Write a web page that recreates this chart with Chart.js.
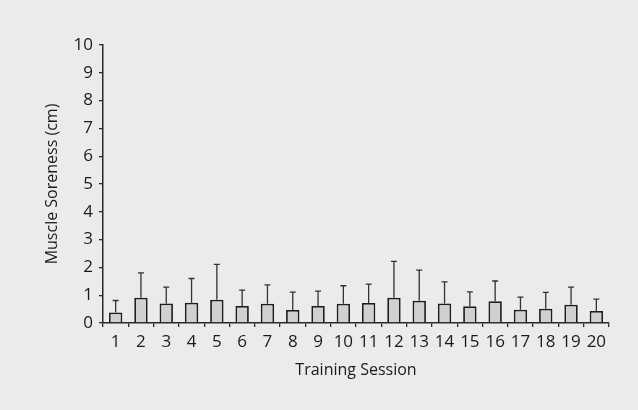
<!DOCTYPE html>
<html>
<head>
<meta charset="utf-8">
<script src="https://cdn.jsdelivr.net/npm/chart.js@4/dist/chart.umd.min.js"></script>
<style>
  html, body { margin: 0; padding: 0; background: #ebebed; }
  #wrap { width: 638px; height: 410px; }
</style>
</head>
<body>
<div id="wrap"><canvas id="barChart" width="638" height="410"></canvas></div>
<script>
const sessions = ['1', '2', '3', '4', '5', '6', '7', '8', '9', '10',
                  '11', '12', '13', '14', '15', '16', '17', '18', '19', '20'];
const soreness = [0.38, 0.91, 0.70, 0.73, 0.84, 0.61, 0.69, 0.47, 0.61, 0.69,
                  0.72, 0.91, 0.80, 0.70, 0.60, 0.78, 0.48, 0.51, 0.66, 0.43];
const sorenessSD = [0.43, 0.89, 0.59, 0.87, 1.27, 0.57, 0.68, 0.64, 0.54, 0.65,
                    0.68, 1.31, 1.10, 0.78, 0.52, 0.73, 0.45, 0.59, 0.63, 0.43];
const yTicks = [0, 1, 2, 3, 4, 5, 6, 7, 8, 9, 10];

const axisColor = '#2a2a2a';
const font = "'Open Sans', sans-serif";

// one-sided (upper) error bars drawn through the y scale
const errorBars = {
    id: 'errorBars',
    afterDatasetsDraw(chart) {
        const ctx = chart.ctx;
        const y = chart.scales.y;
        const meta = chart.getDatasetMeta(0);
        ctx.save();
        ctx.strokeStyle = '#333';
        ctx.lineWidth = 1.3;
        meta.data.forEach((bar, i) => {
            const top = y.getPixelForValue(soreness[i] + sorenessSD[i]);
            ctx.beginPath();
            ctx.moveTo(bar.x, bar.y);
            ctx.lineTo(bar.x, top);
            ctx.moveTo(bar.x - 3, top);
            ctx.lineTo(bar.x + 3, top);
            ctx.stroke();
        });
        ctx.restore();
    }
};

const ctx1 = document.getElementById('barChart');

new Chart(ctx1, {
    type: 'bar',
    data: {
        labels: sessions,
        datasets: [{
            label: 'Muscle Soreness',
            data: soreness,
            backgroundColor: '#d0d0d2',
            borderColor: '#1e1e1e',
            borderWidth: 1.8,
            categoryPercentage: 1,
            barPercentage: 0.53
        }]
    },
    options: {
        responsive: false,
        animation: false,
        layout: { padding: { left: 43, right: 29, top: 45, bottom: 30 } },
        plugins: {
            legend: { display: false },
            tooltip: { enabled: false }
        },
        scales: {
            x: {
                grid: { drawOnChartArea: false, drawTicks: true, tickLength: 4, color: axisColor, lineWidth: 1.3 },
                border: { color: axisColor, width: 1.5 },
                ticks: { color: '#1a1a1a', font: { family: font, size: 17 }, padding: 5, maxRotation: 0, autoSkip: false },
                title: { display: true, text: 'Training Session', color: '#1a1a1a', font: { family: font, size: 16 }, padding: { top: 0, bottom: 0 } },
                afterFit(scale) { scale.height = 57; }
            },
            y: {
                min: 0,
                max: 10,
                afterBuildTicks(scale) { scale.ticks = yTicks.map(v => ({ value: v })); },
                grid: { drawOnChartArea: false, drawTicks: true, tickLength: 4, color: axisColor, lineWidth: 1.3 },
                border: { color: axisColor, width: 1.5 },
                ticks: { color: '#1a1a1a', font: { family: font, size: 17 }, padding: 6 },
                title: { display: true, text: 'Muscle Soreness (cm)', color: '#1a1a1a', font: { family: font, size: 16 }, padding: { top: 0, bottom: 0 } },
                afterFit(scale) { scale.width = 60; }
            }
        }
    },
    plugins: [errorBars]
});
</script>
</body>
</html>
